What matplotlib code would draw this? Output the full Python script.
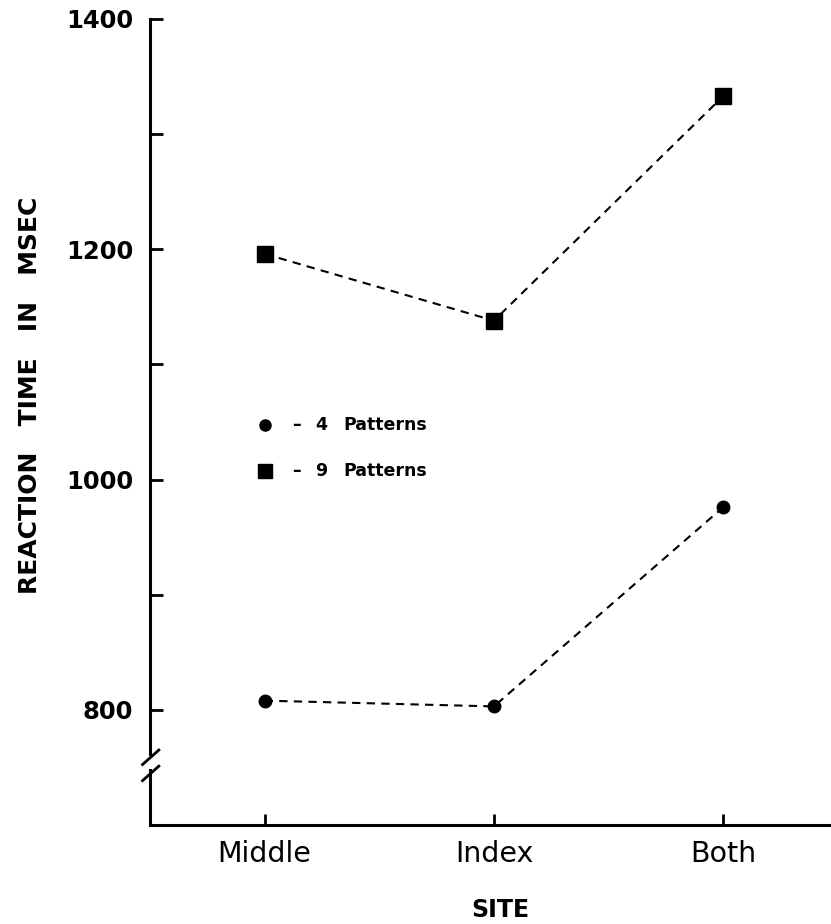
import matplotlib
matplotlib.use("Agg")
import matplotlib.pyplot as plt

sites = ["Middle", "Index", "Both"]
four_patterns = [808, 803, 976]
nine_patterns = [1196, 1138, 1333]
y_labelled = [800, 1000, 1200, 1400]
y_minor = [900, 1100, 1300]

plt.rcParams['font.family'] = ['DejaVu Sans']

fig = plt.figure(figsize=(8.31, 9.24), dpi=100)
ax = fig.add_axes([150/831, 1 - 825/924, 1 - 150/831, (825 - 19)/924])

x = list(range(len(sites)))
ax.plot(x, four_patterns, color='black', lw=1.5, dashes=(4, 3),
        marker='o', markersize=9, clip_on=False)
ax.plot(x, nine_patterns, color='black', lw=1.5, dashes=(4, 3),
        marker='s', markersize=11, clip_on=False)

ax.set_xlim(-0.5, 2.47)
ax.set_ylim(700, 1400)

ax.set_xticks(x)
ax.set_xticklabels(sites, fontsize=20.5)
ax.set_yticks(y_labelled)
ax.set_yticklabels([str(v) for v in y_labelled], fontsize=17.5, fontweight='bold')
ax.set_yticks(y_minor, minor=True)
ax.tick_params(axis='y', which='both', direction='in', length=9, width=2, pad=12)
ax.tick_params(axis='x', direction='in', length=8, width=2, pad=11)

# spines: left one broken near the bottom
for s in ['top', 'right', 'left']:
    ax.spines[s].set_visible(False)
ax.spines['bottom'].set_linewidth(2.2)
lo, hi = 0.068, 0.088
ax.plot([0, 0], [0, lo], transform=ax.transAxes, color='black', lw=2.2, clip_on=False)
ax.plot([0, 0], [hi, 1], transform=ax.transAxes, color='black', lw=2.2, clip_on=False)
for yc in (lo - 0.004, hi - 0.004):
    ax.plot([-0.011, 0.013], [yc - 0.009, yc + 0.009], transform=ax.transAxes,
            color='black', lw=2, clip_on=False)

# legend drawn by hand
def ax_pos(px, py):
    return (px - 150) / 681, (825 - py) / 806

for py, mk, ms, num in [(425, 'o', 8, "4"), (471, 's', 10, "9")]:
    mx, my = ax_pos(265, py)
    ax.plot([mx], [my], transform=ax.transAxes, marker=mk, markersize=ms,
            color='black', clip_on=False)
    dx, _ = ax_pos(296, py)
    ax.text(dx, my, "–", transform=ax.transAxes, fontsize=12.5,
            fontweight='bold', va='center', ha='center')
    nx, _ = ax_pos(321, py)
    ax.text(nx, my, num, transform=ax.transAxes, fontsize=12.5,
            fontweight='bold', va='center', ha='center')
    tx, _ = ax_pos(343, py)
    ax.text(tx, my, "Patterns", transform=ax.transAxes, fontsize=12.5,
            fontweight='bold', va='center', ha='left')

fig.text(30/831, 1 - 395/924, "REACTION   TIME   IN   MSEC", rotation=90,
         fontsize=18, fontweight='bold', ha='center', va='center')
fig.text(500/831, 1 - 910/924, "SITE", fontsize=17, fontweight='bold',
         ha='center', va='center')

fig.savefig("out.png", dpi=100)
